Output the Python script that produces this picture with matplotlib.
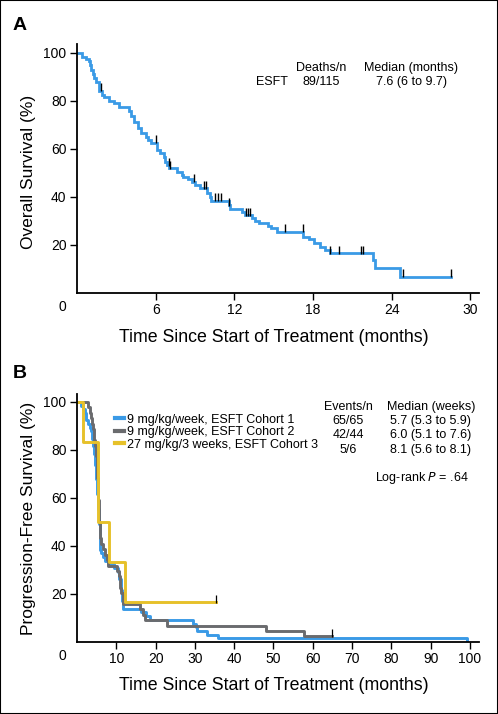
import numpy as np
import matplotlib
matplotlib.use("Agg")
import matplotlib.pyplot as plt
from matplotlib.patches import Rectangle

plt.rcParams['font.family'] = ['Liberation Sans', 'DejaVu Sans']

# ---------------- Data: Panel A (overall survival, ESFT) ----------------
a_times = [0, 0.35, 0.7, 0.9, 1.0, 1.1, 1.2, 1.3, 1.45, 1.7, 1.88, 2.08, 2.46, 2.84,
           3.22, 3.95, 4.15, 4.37, 4.62, 4.88, 5.26, 5.45, 5.64, 6.1, 6.35, 6.6, 6.73,
           6.9, 7.0, 7.65, 8.0, 8.1, 8.5, 8.77, 9.0, 9.4, 9.9, 10.16, 10.25, 11.56,
           11.65, 12.58, 12.8, 13.34, 13.6, 13.85, 14.6, 14.8, 15.25, 17.25, 17.66,
           18.04, 18.55, 18.93, 19.3, 22.6, 22.74, 24.6]
a_surv = [100, 98.3, 97.4, 96.5, 94.8, 93.0, 91.3, 89.6, 87.8, 84.3, 82.6, 81.7, 80.0,
          79.1, 77.4, 75.7, 73.9, 71.4, 68.7, 66.5, 65.1, 63.9, 62.6, 59.6, 58.2, 56.8,
          54.7, 53.3, 52.0, 50.6, 49.3, 48.5, 47.5, 46.4, 45.0, 43.6, 41.5, 40.1, 38.5,
          36.7, 35.0, 33.9, 32.5, 31.1, 30.0, 29.0, 27.7, 27.0, 25.5, 23.5, 22.4, 20.7,
          19.3, 17.9, 16.5, 13.75, 10.3, 6.8]
a_end = 28.54
a_censor = [1.83, 6.0, 6.98, 7.11, 8.89, 9.65, 9.85, 10.54, 10.75, 10.98, 11.6, 12.88,
            13.04, 13.21, 15.83, 17.2, 19.3, 20.0, 21.65, 21.8, 24.85, 28.54]

# ---------------- Data: Panel B (progression-free survival) ----------------
b1_times = [0, 1.0, 1.5, 2.0, 2.4, 2.8, 3.2, 3.5, 3.8, 4.0, 4.3, 4.6, 4.9, 5.2, 5.4,
            5.6, 5.75, 5.9, 6.2, 6.6, 7.2, 8.0, 9.5, 10.4, 10.8, 11.2, 11.5, 11.8,
            16.4, 17.6, 18.6, 29.6, 30.2, 30.6, 33.0, 36.0, 99.2]
b1_surv = [100, 98.5, 96.9, 95.4, 92.3, 90.8, 89.2, 87.7, 84.6, 81.5, 78.5, 73.8, 67.7,
           61.5, 55.4, 49.2, 41.5, 38.5, 36.9, 35.4, 33.8, 32.3, 30.8, 29.2, 26.2, 21.5,
           16.9, 13.8, 12.3, 10.8, 9.2, 7.7, 6.2, 4.6, 3.1, 1.5, 0]
b1_end = 99.2

b2_times = [0, 2.9, 3.2, 3.5, 3.8, 4.0, 4.3, 4.6, 4.8, 5.0, 5.2, 5.4, 5.6, 5.8, 6.1,
            6.7, 7.0, 7.6, 8.0, 10.1, 10.6, 11.0, 11.3, 11.6, 16.0, 16.9, 17.3, 22.8,
            48.0, 57.8]
b2_surv = [100, 97.7, 95.5, 93.2, 90.9, 88.6, 84.1, 81.8, 77.3, 72.7, 68.2, 59.1, 50.0,
           43.2, 40.9, 38.6, 36.4, 34.1, 31.8, 29.5, 27.3, 22.7, 20.5, 15.9, 13.6, 11.4,
           9.1, 6.8, 4.5, 2.3]
b2_end = 65.0

b3_times = [0, 1.5, 5.4, 8.2, 12.2]
b3_surv = [100, 83.3, 50.0, 33.3, 16.7]
b3_end = 35.4

b_censor = {"c2": [65.0], "c3": [35.4]}

legend_labels = ["9 mg/kg/week, ESFT Cohort 1", "9 mg/kg/week, ESFT Cohort 2",
                 "27 mg/kg/3 weeks, ESFT Cohort 3"]
events_n = ["65/65", "42/44", "5/6"]
medians_b = ["5.7 (5.3 to 5.9)", "6.0 (5.1 to 7.6)", "8.1 (5.6 to 8.1)"]

a_xticks = [6, 12, 18, 24, 30]
b_xticks = [10, 20, 30, 40, 50, 60, 70, 80, 90, 100]
yticks = [20, 40, 60, 80, 100]

BLUE = '#3a9ae6'
GRAY = '#6a6b6e'
YELLOW = '#e6c12a'

W, H = 498, 714
fig = plt.figure(figsize=(W / 100, H / 100), dpi=100)


def fx(x):
    return x / W


def fy(y):
    return 1 - y / H


def step_xy(times, surv, end):
    t = np.append(np.asarray(times, float), end)
    s = np.append(np.asarray(surv, float), surv[-1])
    return t, s


def surv_at(times, surv, t):
    idx = np.searchsorted(np.asarray(times), np.asarray(t), side='right') - 1
    return np.asarray(surv)[idx]


def style_axes(ax, xmax, ymax, xticks):
    ax.set_xlim(0, xmax)
    ax.set_ylim(0, ymax)
    for s in ['top', 'right']:
        ax.spines[s].set_visible(False)
    for s in ['left', 'bottom']:
        ax.spines[s].set_linewidth(1.3)
    ax.set_xticks(xticks)
    ax.set_yticks(yticks)
    ax.tick_params(axis='both', direction='out', length=5, width=1.0,
                   labelsize=10, pad=2.5, colors='black')
    ax.annotate('0', xy=(0, 0), xycoords='axes fraction', xytext=(-10.8, -10.3),
                textcoords='offset points', ha='center', va='center', fontsize=10)


# ---------------- Panel A ----------------
axA = fig.add_axes([fx(77), fy(293), fx(479) - fx(77), fy(44) - fy(293)])
t, s = step_xy(a_times, a_surv, a_end)
axA.step(t, s, where='post', color=BLUE, lw=2.0, solid_joinstyle='miter')
cs = surv_at(a_times, a_surv, a_censor)
axA.plot(a_censor, cs + 1.4, ls='none', marker='|', ms=5.5, mew=1.0, color='black')
style_axes(axA, 30.65, 103.7, a_xticks)

# ---------------- Panel B ----------------
axB = fig.add_axes([fx(77), fy(642), fx(479) - fx(77), fy(394) - fy(642)])
h1, = axB.step(*step_xy(b1_times, b1_surv, b1_end), where='post', color=BLUE, lw=2.1)
h2, = axB.step(*step_xy(b2_times, b2_surv, b2_end), where='post', color=GRAY, lw=2.1)
h3, = axB.step(*step_xy(b3_times, b3_surv, b3_end), where='post', color=YELLOW, lw=2.1)
axB.plot(b_censor["c2"], surv_at(b2_times, b2_surv, b_censor["c2"]) + 1.4, ls='none',
         marker='|', ms=5.5, mew=0.9, color='black')
axB.plot(b_censor["c3"], surv_at(b3_times, b3_surv, b_censor["c3"]) + 1.4, ls='none',
         marker='|', ms=5.5, mew=0.9, color='black')
style_axes(axB, 102.3, 103.3, b_xticks)

leg = axB.legend([h1, h2, h3], legend_labels, loc='upper left',
                 bbox_to_anchor=(fx(115), fy(413.5)), bbox_transform=fig.transFigure,
                 frameon=False, borderpad=0, borderaxespad=0, handlelength=0.75,
                 handletextpad=0.2, labelspacing=0.05, fontsize=9)
for ln in leg.get_lines():
    ln.set_linewidth(3)

# ---------------- Texts ----------------
fig.text(fx(13), fy(30), 'A', fontsize=14, fontweight='bold', ha='left', va='baseline')
fig.text(fx(13), fy(378), 'B', fontsize=14, fontweight='bold', ha='left', va='baseline')

fig.text(fx(274), fy(337), 'Time Since Start of Treatment (months)', fontsize=12.8,
         ha='center', va='center')
fig.text(fx(274), fy(685), 'Time Since Start of Treatment (months)', fontsize=12.8,
         ha='center', va='center')
fig.text(fx(28), fy(172), 'Overall Survival (%)', fontsize=12.5, rotation=90,
         ha='center', va='center')
fig.text(fx(28), fy(518), 'Progression-Free Survival (%)', fontsize=12.5, rotation=90,
         ha='center', va='center')

# panel A table
fig.text(fx(320.7), fy(67.7), 'Deaths/n', fontsize=9, ha='center', va='center')
fig.text(fx(411), fy(67.7), 'Median (months)', fontsize=9, ha='center', va='center')
fig.text(fx(271.7), fy(81.7), 'ESFT', fontsize=9, ha='center', va='center')
fig.text(fx(320.7), fy(81.7), '89/115', fontsize=9, ha='center', va='center')
fig.text(fx(411), fy(81.7), '7.6 (6 to 9.7)', fontsize=9, ha='center', va='center')

# panel B table
fig.text(fx(348), fy(406.7), 'Events/n', fontsize=9, ha='center', va='center')
fig.text(fx(430.7), fy(406.7), 'Median (weeks)', fontsize=9, ha='center', va='center')
rows_y = [421, 435.3, 450]
for yy, ev, md in zip(rows_y, events_n, medians_b):
    fig.text(fx(348), fy(yy), ev, fontsize=9, ha='center', va='center')
    fig.text(fx(430.7), fy(yy), md, fontsize=9, ha='center', va='center')
fig.text(fx(469), fy(477.7), r'Log-rank $\it{P}$ = .64', fontsize=9, ha='right',
         va='center')

fig.patches.append(Rectangle((0, 0), 1, 1, transform=fig.transFigure, fill=False,
                             edgecolor='black', lw=1.5))

fig.savefig('out.png', dpi=100)
